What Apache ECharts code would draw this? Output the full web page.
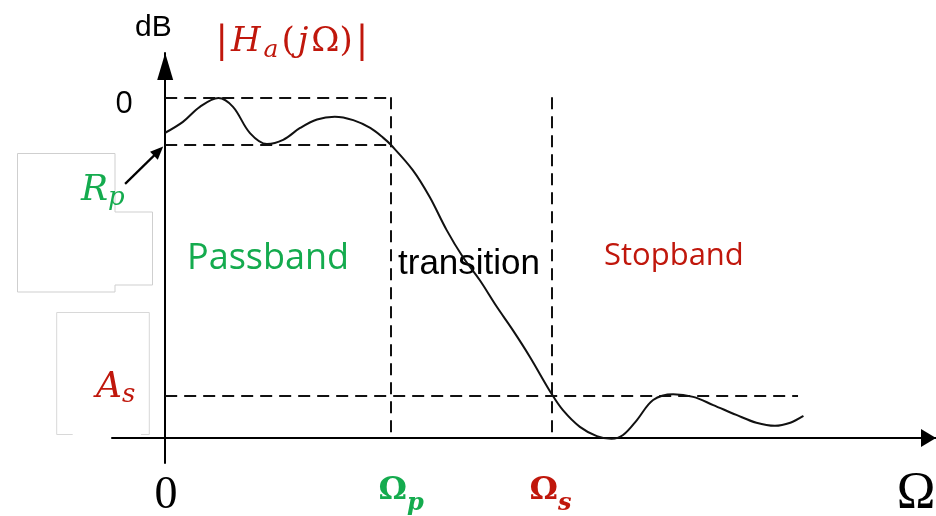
<!DOCTYPE html>
<html><head><meta charset="utf-8">
<script src="https://cdn.jsdelivr.net/npm/echarts@6/dist/echarts.min.js"></script>
<style>html,body{margin:0;padding:0;background:#fff}#c{width:936px;height:516px}</style>
</head><body><div id="c"></div>
<script>
// Frequency (relative units, y-axis at 0) and magnitude (relative level, baseline at 0, 0 dB = 100)
const omegaX = [0,2.3,4.5,6.9,8.8,11.0,13.2,15.3,17.5,19.7,22.0,24.4,26.6,28.3,29.3,32.1,34.3,36.5,38.6,40.8,43.0,45.1,47.3,50.1,51.6,53.8,56.0,57.9,59.4,61.2,63.3,65.9,68.5,71.1,74.1,76.7,79.1,81.1,82.8];
const magnitude = [89.6,92.8,97.2,99.8,97.2,89.5,86.3,87.5,91.0,93.5,94.3,93.3,91.0,88.1,86.0,78.7,70.8,61.1,53.2,46.4,38.6,31.7,23.9,13.1,8.2,3.3,0.6,-0.2,0.9,5.3,11.2,12.9,12.1,9.7,6.8,4.5,3.6,4.5,6.5];
const passEdge = 29.3, stopEdge = 50.1;
const zeroDb = 100, rpLevel = 86.2, asLevel = 12.5, asEnd = 82.1;
const rpArrowFrom = [-5.2, 74.6], rpArrowTo = [-0.86, 84.2];
const xTickValues = [0.1, 30.6, 50.0, 97.4];
const xTickLabels = ['{zero|0}', '{omP|Ω}{subP|p}', '{omS|Ω}{subS|s}', '{omega|Ω}'];
const yTickValues = [zeroDb];
const yTickLabels = ['0'];

const GREEN = '#14AB4E', RED = '#C0170C';
const dash = [12, 7];
const chart = echarts.init(document.getElementById('c'));
const seg = (a, b) => [{coord: a}, {coord: b}];
const pickLabel = (vals, labels) => v => {
  const i = vals.findIndex(t => Math.abs(t - v) < 1e-6);
  return i < 0 ? '' : labels[i];
};
const mathPad = [0, 1.5, 0, 1.5];

chart.setOption({
  animation: false,
  backgroundColor: '#fff',
  grid: {left: 112, right: 0, top: 53, bottom: 53, containLabel: false, outerBoundsMode: 'none'},
  xAxis: {
    type: 'value', min: -6.9, max: 100,
    axisLine: {onZero: true, symbol: ['none', 'triangle'], symbolSize: [18, 15], symbolOffset: [0, -7.5],
      lineStyle: {color: '#000', width: 2}},
    axisTick: {show: false}, splitLine: {show: false},
    axisLabel: {
      customValues: xTickValues, formatter: pickLabel(xTickValues, xTickLabels), margin: 3,
      rich: {
        zero: {fontFamily: 'Liberation Serif', fontSize: 46, lineHeight: 60, color: '#000'},
        omP: {fontFamily: 'DejaVu Serif', fontWeight: 'bold', fontSize: 32, lineHeight: 50, color: GREEN},
        subP: {fontFamily: 'DejaVu Serif', fontWeight: 'bold', fontStyle: 'italic', fontSize: 24, lineHeight: 28, verticalAlign: 'bottom', color: GREEN},
        omS: {fontFamily: 'DejaVu Serif', fontWeight: 'bold', fontSize: 32, lineHeight: 50, color: RED},
        subS: {fontFamily: 'DejaVu Serif', fontWeight: 'bold', fontStyle: 'italic', fontSize: 24, lineHeight: 28, verticalAlign: 'bottom', color: RED},
        omega: {fontFamily: 'Liberation Serif', fontSize: 52, lineHeight: 56, color: '#000'}
      }
    }
  },
  yAxis: {
    type: 'value', min: -7.3, max: 113,
    axisLine: {onZero: true, symbol: ['none', 'triangle'], symbolSize: [16, 27], symbolOffset: [0, -13.5],
      lineStyle: {color: '#000', width: 2}},
    axisTick: {show: false}, splitLine: {show: false},
    axisLabel: {customValues: yTickValues, formatter: pickLabel(yTickValues, yTickLabels), margin: -21,
      fontFamily: 'Open Sans', fontSize: 31, color: '#000', verticalAlign: 'top', lineHeight: 14}
  },
  series: [{
    type: 'line', data: omegaX.map((x, i) => [x, magnitude[i]]), smooth: 0.35, showSymbol: false, symbol: 'none',
    lineStyle: {color: '#111', width: 2}, silent: true,
    markLine: {
      silent: true, symbol: ['none', 'none'], label: {show: false}, emphasis: {disabled: true},
      lineStyle: {color: '#111', width: 2, type: dash},
      data: [
        seg([0, zeroDb], [passEdge, zeroDb]),
        seg([0, rpLevel], [passEdge, rpLevel]),
        seg([0, asLevel], [asEnd, asLevel]),
        seg([passEdge, zeroDb], [passEdge, 0]),
        seg([stopEdge, zeroDb], [stopEdge, 0]),
        [{coord: rpArrowFrom, lineStyle: {type: 'solid', width: 2.2, color: '#000'}},
         {coord: rpArrowTo, symbol: 'triangle', symbolSize: [11, 13]}]
      ]
    }
  }],
  graphic: [
    {type: 'polygon', silent: true, shape: {points: [[17.5,153.5],[115,153.5],[115,212],[152.5,212],[152.5,285],[115,285],[115,292],[17.5,292]]},
      style: {fill: 'none', stroke: '#cfcfcf', lineWidth: 1}},
    {type: 'polyline', silent: true, shape: {points: [[72.7,434.5],[56.7,434.5],[56.7,312.5],[149.3,312.5],[149.3,434.5],[141,434.5]]},
      style: {fill: 'none', stroke: '#d8d8d8', lineWidth: 1}},
    {type: 'text', x: 135, y: 28, style: {text: 'dB', fontFamily: 'Liberation Sans', fontSize: 30, fill: '#000', align: 'left', verticalAlign: 'middle'}},
    {type: 'text', x: 214, y: 42, style: {
      text: '{b||}{i|H}{s|a}{r|(}{i|j}{r|Ω)}{b||}', align: 'left', verticalAlign: 'middle',
      rich: {
        b: {fontFamily: 'DejaVu Serif', fontSize: 37, lineHeight: 42, fill: RED, padding: mathPad},
        r: {fontFamily: 'DejaVu Serif', fontSize: 34, lineHeight: 42, fill: RED, padding: mathPad},
        i: {fontFamily: 'DejaVu Serif', fontStyle: 'italic', fontSize: 34, lineHeight: 42, fill: RED, padding: mathPad},
        s: {fontFamily: 'DejaVu Serif', fontStyle: 'italic', fontSize: 25, lineHeight: 24, verticalAlign: 'bottom', fill: RED, padding: mathPad}
      }}},
    {type: 'text', x: 81, y: 191, style: {
      text: '{m|R}{s|p}', align: 'left', verticalAlign: 'middle',
      rich: {
        m: {fontFamily: 'DejaVu Serif', fontStyle: 'italic', fontSize: 36, lineHeight: 40, fill: GREEN},
        s: {fontFamily: 'DejaVu Serif', fontStyle: 'italic', fontSize: 26, lineHeight: 26, verticalAlign: 'bottom', fill: GREEN}
      }}},
    {type: 'text', x: 96, y: 388, style: {
      text: '{m|A}{s|s}', align: 'left', verticalAlign: 'middle',
      rich: {
        m: {fontFamily: 'DejaVu Serif', fontStyle: 'italic', fontSize: 36, lineHeight: 40, fill: RED},
        s: {fontFamily: 'DejaVu Serif', fontStyle: 'italic', fontSize: 26, lineHeight: 18, verticalAlign: 'bottom', fill: RED}
      }}},
    {type: 'text', x: 187, y: 259, style: {text: 'Passband', fontFamily: 'Open Sans', fontSize: 36, fill: GREEN, align: 'left', verticalAlign: 'middle'}},
    {type: 'text', x: 398, y: 264, style: {text: 'transition', fontFamily: 'Liberation Sans', fontSize: 35, fill: '#000', align: 'left', verticalAlign: 'middle'}},
    {type: 'text', x: 604, y: 256, style: {text: 'Stopband', fontFamily: 'Open Sans', fontSize: 31, fill: RED, align: 'left', verticalAlign: 'middle'}}
  ]
});
</script></body></html>
